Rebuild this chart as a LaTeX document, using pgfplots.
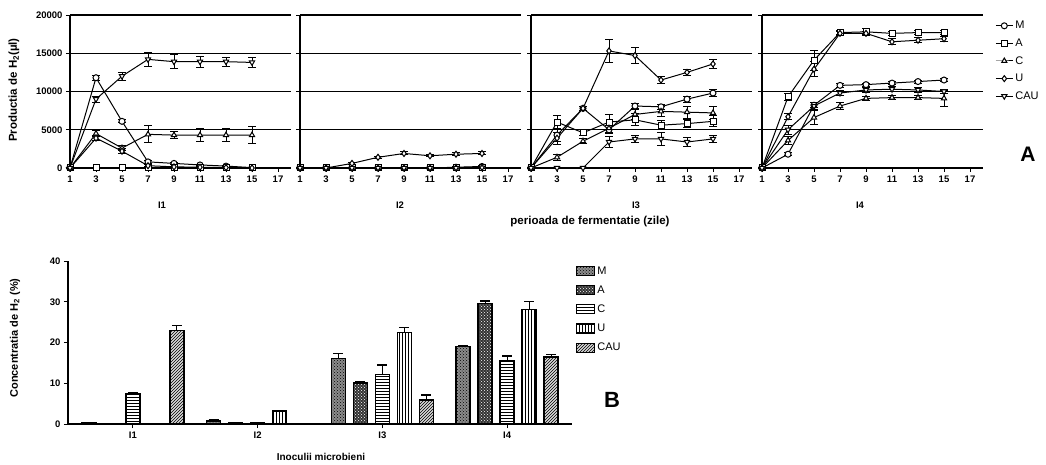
\documentclass[border=0pt]{standalone}
\usepackage{fontspec}
\setmainfont{Liberation Sans}
\usepackage{pgfplots}
\pgfplotsset{compat=1.18}
\usepackage{pgfplotstable}
\usetikzlibrary{patterns}

\pgfplotstableread{
x M eM A eA C eC U eU CAU eCAU
1 0 0 0 0 0 0 0 0 0 0
3 11800 300 0 0 4500 400 3900 300 9000 400
5 6100 200 0 0 2600 300 2200 300 12000 500
7 800 150 0 0 4400 1100 300 100 14200 900
9 600 100 0 0 4300 500 150 50 13900 900
11 400 100 0 0 4300 900 100 50 13900 700
13 250 50 0 0 4300 900 50 30 13900 600
15 50 30 0 0 4300 1100 0 0 13800 600
}\tabI

\pgfplotstableread{
x M eM A eA C eC U eU CAU eCAU
1 0 0 0 0 0 0 0 0 0 0
3 0 0 0 0 0 0 0 0 0 0
5 0 0 0 0 0 0 600 100 0 0
7 0 0 0 0 0 0 1400 150 0 0
9 0 0 0 0 0 0 1900 200 0 0
11 0 0 0 0 0 0 1600 150 0 0
13 100 50 0 0 50 30 1800 200 0 0
15 200 100 0 0 100 50 1900 200 50 30
}\tabII

\pgfplotstableread{
x M eM A eA C eC U eU CAU eCAU
1 0 0 0 0 0 0 0 0 0 0
3 4300 800 6000 900 1400 400 3900 800 0 0
5 7800 300 4600 400 3500 300 7800 300 0 0
7 5000 500 6000 1000 5200 600 15300 1500 3400 700
9 8100 300 6300 800 7000 600 14700 1000 3800 500
11 8000 300 5600 600 7400 700 11500 400 3800 800
13 9000 400 5800 500 7300 800 12500 400 3400 600
15 9800 400 6100 700 7200 900 13600 600 3800 500
}\tabIII

\pgfplotstableread{
x M eM A eA C eC U eU CAU eCAU
1 0 0 0 0 0 0 0 0 0 0
3 1800 200 9300 500 3600 500 6700 400 5000 600
5 8200 300 14100 1300 6600 900 12900 1000 8100 400
7 10800 300 17700 300 8100 400 17600 300 9800 300
9 10900 200 17800 400 9100 300 17600 300 10200 300
11 11100 200 17600 300 9200 300 16500 400 10300 300
13 11300 200 17700 300 9200 300 16700 300 10200 300
15 11500 200 17700 300 9100 1000 16900 300 10000 300
}\tabIV

\pgfplotstableread{
x M eM A eA C eC U eU CAU eCAU
1 0.2 0 0 0 7.4 0.3 0 0 23.0 1.1
2 0.7 0.3 0.2 0 0.3 0 3.2 0.2 0 0
3 16.1 1.2 10.1 0.2 12.2 2.3 22.5 1.1 5.9 1.2
4 19.0 0.3 29.6 0.6 15.5 1.2 28.1 2.0 16.4 0.6
}\tabB

\pgfplotsset{
  pl/.style={black, line width=1pt, mark size=3pt,
    mark options={fill=white, solid, line width=1pt},
    /pgfplots/error bars/y dir=both,
    /pgfplots/error bars/y explicit,
    /pgfplots/error bars/error mark=-,
    /pgfplots/error bars/error bar style={line width=1pt, black},
    /pgfplots/error bars/error mark options={rotate=90, black, line width=1pt, mark size=4pt}},
  topstyle/.style={
    scale only axis, width=221pt, height=153pt,
    xmin=1, xmax=18, ymin=0, ymax=20000,
    axis x line*=bottom, axis y line*=left,
    xtick={1,3,...,17}, ytick={0,5000,...,20000},
    ymajorgrids, grid style={black, line width=1.1pt},
    axis line style={black, line width=1.1pt},
    tick align=outside, major tick length=4pt,
    tick style={black, line width=0.9pt},
    tick label style={font=\bfseries\fontsize{9.5}{10}\selectfont},
    /pgf/number format/assume math mode=true,
    /pgf/number format/set thousands separator={},
    scaled y ticks=false, clip=false,
    anchor=south west,
  },
}

\newcommand{\fiveplots}[1]{%
  \addplot[pl, mark=*] table[x=x,y=M,y error=eM]{#1};
  \addplot[pl, mark=square*] table[x=x,y=A,y error=eA]{#1};
  \addplot[pl, mark=triangle*] table[x=x,y=C,y error=eC]{#1};
  \addplot[pl, mark=diamond*] table[x=x,y=U,y error=eU]{#1};
  \addplot[pl, mark=triangle*, every mark/.append style={rotate=180}] table[x=x,y=CAU,y error=eCAU]{#1};
}

\begin{document}
\begin{tikzpicture}[x=1pt,y=1pt]
\path[use as bounding box] (0,0) rectangle (1046,464);

% ---- Panel A ----
\begin{axis}[topstyle, at={(70pt,296pt)}]
\fiveplots{\tabI}
\end{axis}
\begin{axis}[topstyle, at={(300pt,296pt)}, yticklabels={}]
\fiveplots{\tabII}
\end{axis}
\begin{axis}[topstyle, at={(531pt,296pt)}, yticklabels={}]
\fiveplots{\tabIII}
\end{axis}
\begin{axis}[topstyle, at={(762pt,296pt)}, yticklabels={},
  legend style={at={(1.05,0.98)}, anchor=north west, draw=none, fill=none,
    font=\fontsize{11}{12}\selectfont, row sep=4.5pt, inner sep=1pt},
  legend cell align=left]
\fiveplots{\tabIV}
\legend{M,A,C,U,CAU}
\end{axis}

\node[rotate=90, font=\bfseries\fontsize{11.5}{13}\selectfont] at (14,374) {Productia de H\textsubscript{2}(µl)};
\node[font=\bfseries\fontsize{9.5}{11}\selectfont] at (162,259) {I1};
\node[font=\bfseries\fontsize{9.5}{11}\selectfont] at (400,259) {I2};
\node[font=\bfseries\fontsize{9.5}{11}\selectfont] at (636,259) {I3};
\node[font=\bfseries\fontsize{9.5}{11}\selectfont] at (860,259) {I4};
\node[font=\bfseries\fontsize{11.5}{13}\selectfont] at (590,242) {perioada de fermentatie (zile)};
\node[font=\bfseries\fontsize{21}{24}\selectfont] at (1028,310) {A};

% ---- Panel B ----
\begin{axis}[at={(68pt,40pt)}, anchor=south west, scale only axis,
  width=504pt, height=163pt,
  xmin=0.48, xmax=4.52, ymin=0, ymax=40,
  ytick={0,10,...,40}, xtick={1,2,3,4}, xticklabels={I1,I2,I3,I4},
  axis x line*=bottom, axis y line*=left,
  axis line style={black, line width=1.1pt},
  tick align=outside, major tick length=4pt,
  tick style={black, line width=0.9pt},
  tick label style={font=\bfseries\fontsize{9.5}{11}\selectfont},
  /pgf/number format/assume math mode=true,
  ybar=8pt, bar width=14pt, clip=false,
  every axis plot/.append style={draw=black, line width=1.4pt,
    /pgfplots/error bars/y dir=plus,
    /pgfplots/error bars/y explicit,
    /pgfplots/error bars/error mark=-,
    /pgfplots/error bars/error bar style={line width=1.2pt, black, solid},
    /pgfplots/error bars/error mark options={rotate=90, black, line width=1.2pt, mark size=5pt}},
  legend image code/.code={\draw[#1, line width=1.2pt] (0pt,-4.5pt) rectangle (18pt,4.5pt);},
  legend style={at={(1.006,0.985)}, anchor=north west, draw=none, fill=none,
    font=\fontsize{11}{12}\selectfont, row sep=6pt, inner sep=1pt},
  legend cell align=left]
\addplot[fill=black!45, postaction={pattern=crosshatch dots, pattern color=black}] table[x=x,y=M,y error=eM]{\tabB};
\addplot[fill=black!80, postaction={pattern=crosshatch dots, pattern color=white}] table[x=x,y=A,y error=eA]{\tabB};
\addplot[fill=white, postaction={pattern=horizontal lines}] table[x=x,y=C,y error=eC]{\tabB};
\addplot[fill=white, postaction={pattern=vertical lines}] table[x=x,y=U,y error=eU]{\tabB};
\addplot[fill=black!15, postaction={pattern=north east lines}] table[x=x,y=CAU,y error=eCAU]{\tabB};
\legend{M,A,C,U,CAU}
\end{axis}

\node[rotate=90, font=\bfseries\fontsize{11}{13}\selectfont] at (15,126) {Concentratia de H\textsubscript{2} (\%)};
\node[font=\bfseries\fontsize{10}{12}\selectfont] at (321,7) {Inoculii microbieni};
\node[font=\bfseries\fontsize{22}{26}\selectfont] at (612,64) {B};
\end{tikzpicture}
\end{document}
